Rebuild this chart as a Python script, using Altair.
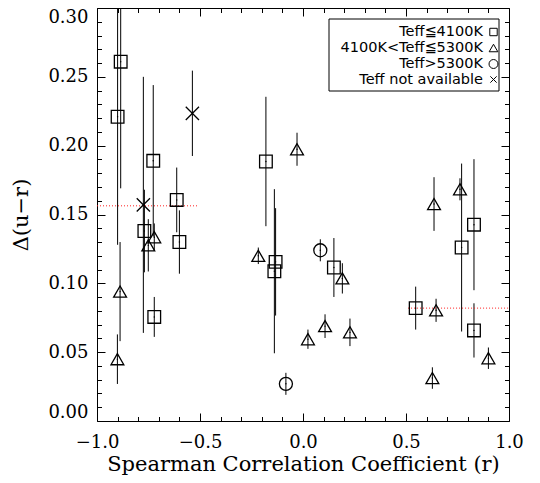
import altair as alt
import pandas as pd

# ---- data ----
# Teff <= 4100K (squares)
sq_r = [-0.885, -0.900, -0.727, -0.770, -0.722, -0.613, -0.600, -0.180, -0.133, -0.139, 0.150, 0.547, 0.770, 0.830, 0.830]
sq_d = [0.261, 0.221, 0.189, 0.138, 0.0756, 0.1606, 0.130, 0.1885, 0.1156, 0.1088, 0.1115, 0.082, 0.126, 0.1426, 0.0658]
sq_e = [0.092, 0.093, 0.055, 0.030, 0.0145, 0.0235, 0.023, 0.047, 0.039, 0.0596, 0.0214, 0.0156, 0.061, 0.0476, 0.0197]

# 4100K < Teff <= 5300K (triangles)
tr_r = [-0.888, -0.901, -0.751, -0.722, -0.029, -0.217, 0.024, 0.107, 0.191, 0.228, 0.646, 0.636, 0.628, 0.762, 0.900]
tr_d = [0.094, 0.0449, 0.1276, 0.1335, 0.1974, 0.120, 0.0594, 0.0689, 0.1036, 0.0644, 0.0804, 0.1576, 0.0312, 0.1683, 0.0456]
tr_e = [0.036, 0.018, 0.019, 0.010, 0.012, 0.006, 0.007, 0.0086, 0.011, 0.010, 0.0084, 0.0195, 0.0078, 0.008, 0.0078]

# Teff > 5300K (circles)
ci_r = [0.084, -0.083]
ci_d = [0.124, 0.027]
ci_e = [0.008, 0.008]

# Teff not available (crosses)
xx_r = [-0.775, -0.537]
xx_d = [0.157, 0.2235]
xx_e = [0.093, 0.031]

# red dotted reference segments
ref_x1 = [-1.0, 0.51]
ref_x2 = [-0.51, 1.0]
ref_y = [0.1563, 0.082]

legend_labels = ["Teff≦4100K", "4100K<Teff≦5300K", "Teff>5300K", "Teff not available"]
x_major = [-1.0, -0.5, 0.0, 0.5, 1.0]
y_major = [0.0, 0.05, 0.10, 0.15, 0.20, 0.25, 0.30]
x_all = [round(-1 + 0.1 * i, 1) for i in range(21)]
y_all = [round(0.01 * i, 2) for i in range(31)]

# ---- build table ----
rows = []
for grp, rr, dd, ee in [(legend_labels[0], sq_r, sq_d, sq_e), (legend_labels[1], tr_r, tr_d, tr_e),
                        (legend_labels[2], ci_r, ci_d, ci_e), (legend_labels[3], xx_r, xx_d, xx_e)]:
    for a, b, c in zip(rr, dd, ee):
        rows.append({"grp": grp, "r": a, "d": b, "lo": b - c, "hi": b + c})
df = pd.DataFrame(rows)
ref_df = pd.DataFrame({"x1": ref_x1, "x2": ref_x2, "y": ref_y})

W, H = 412, 413
SERIF = "DejaVu Serif"
xs = alt.Scale(domain=[-1, 1], nice=False, zero=False)
ys = alt.Scale(domain=[0, 0.3], nice=False, zero=False)
XPATH = "M-1,-1L1,1M-1,1L1,-1"
shape_scale = alt.Scale(domain=legend_labels, range=["square", "triangle-up", "circle", XPATH])
size_scale = alt.Scale(domain=legend_labels, range=[160, 175, 260, 110])

x_main = alt.Axis(orient="bottom", values=x_major, format=".1f", ticks=False, tickSize=0, domain=False, grid=False,
                  labelFont=SERIF, labelFontSize=18, labelPadding=12, labelColor="black", labelFlush=False,
                  title="Spearman Correlation Coefficient (r)", titleFont=SERIF, titleFontSize=21,
                  titleFontWeight="normal", titlePadding=2, titleColor="black")
y_main = alt.Axis(orient="left", values=y_major, format=".2f", ticks=False, tickSize=0, domain=False, grid=False,
                  labelFont=SERIF, labelFontSize=18, labelPadding=9, labelColor="black", labelFlush=True,
                  title="Δ(u−r)", titleFont=SERIF, titleFontSize=21, titleFontWeight="normal",
                  titlePadding=16, titleColor="black")

xcond = {"condition": {"test": "abs(round(datum.value*10)) % 5 == 0", "value": 8}, "value": 4.5}
ycond = {"condition": {"test": "abs(round(datum.value*100)) % 5 == 0", "value": 8}, "value": 4.5}


def tick_axis(orient, values, cond, offset):
    return alt.Axis(orient=orient, offset=offset, values=values, labels=False, domain=False, grid=False,
                    title=None, tickSize=cond, tickColor="black", tickWidth=1)


errbars = alt.Chart(df).mark_rule(clip=True, color="black", strokeWidth=1).encode(
    x=alt.X("r:Q", scale=xs, axis=x_main),
    y=alt.Y("lo:Q", scale=ys, axis=y_main),
    y2="hi:Q",
)

refs = alt.Chart(ref_df).mark_rule(color="#ff2020", strokeDash=[1, 2], strokeWidth=1).encode(
    x=alt.X("x1:Q", scale=xs, axis=None), x2="x2:Q", y=alt.Y("y:Q", scale=ys, axis=None)
)

pts = alt.Chart(df).mark_point(filled=False, color="black", strokeWidth=1.3, opacity=1).encode(
    x=alt.X("r:Q", scale=xs, axis=None),
    y=alt.Y("d:Q", scale=ys, axis=None),
    shape=alt.Shape("grp:N", scale=shape_scale, legend=None),
    size=alt.Size("grp:N", scale=size_scale, legend=None),
)

dots = alt.Chart(df).mark_circle(color="black", size=2, opacity=1).encode(
    x=alt.X("r:Q", scale=xs, axis=None), y=alt.Y("d:Q", scale=ys, axis=None)
)

ticks_a = alt.Chart(df).mark_point(opacity=0).encode(
    x=alt.X("r:Q", scale=xs, axis=tick_axis("bottom", x_all, xcond, -H)),
    y=alt.Y("d:Q", scale=ys, axis=tick_axis("right", y_all, ycond, -W)),
)
ticks_b = alt.Chart(df).mark_point(opacity=0).encode(
    x=alt.X("r:Q", scale=xs, axis=tick_axis("top", x_all, xcond, -H)),
    y=alt.Y("d:Q", scale=ys, axis=tick_axis("left", y_all, ycond, -W)),
)

# ---- legend box ----
leg_layers = [
    alt.Chart(pd.DataFrame({"k": [0]})).mark_rect(fill="white", stroke="black", strokeWidth=1).encode(
        x=alt.value(232), x2=alt.value(402), y=alt.value(11), y2=alt.value(83))
]
row_y = [24, 40, 56, 71.5]
leg_shapes = ["square", "triangle-up", "circle", XPATH]
leg_sizes = [55, 75, 80, 40]
for lab, yy, shp, sz in zip(legend_labels, row_y, leg_shapes, leg_sizes):
    ldf = pd.DataFrame({"label": [lab]})
    leg_layers.append(
        alt.Chart(ldf).mark_text(align="right", baseline="middle", font="DejaVu Sans", fontSize=14.5,
                                 color="black").encode(text="label:N", x=alt.value(386), y=alt.value(yy))
    )
    leg_layers.append(
        alt.Chart(ldf).mark_point(shape=shp, size=sz, filled=False, color="black", strokeWidth=1, opacity=1).encode(
            x=alt.value(396.5), y=alt.value(yy))
    )

chart = alt.layer(errbars, refs, pts, dots, ticks_a, ticks_b, *leg_layers).resolve_axis(
    x="independent", y="independent"
).properties(
    width=W, height=H,
    padding={"left": 89, "top": 0, "right": 23, "bottom": 54},
    autosize=alt.AutoSizeParams(type="none"),
    background="white",
).configure_view(stroke="black", strokeWidth=1)

chart.save("out.html", embed_options={"renderer": "svg", "actions": False})
